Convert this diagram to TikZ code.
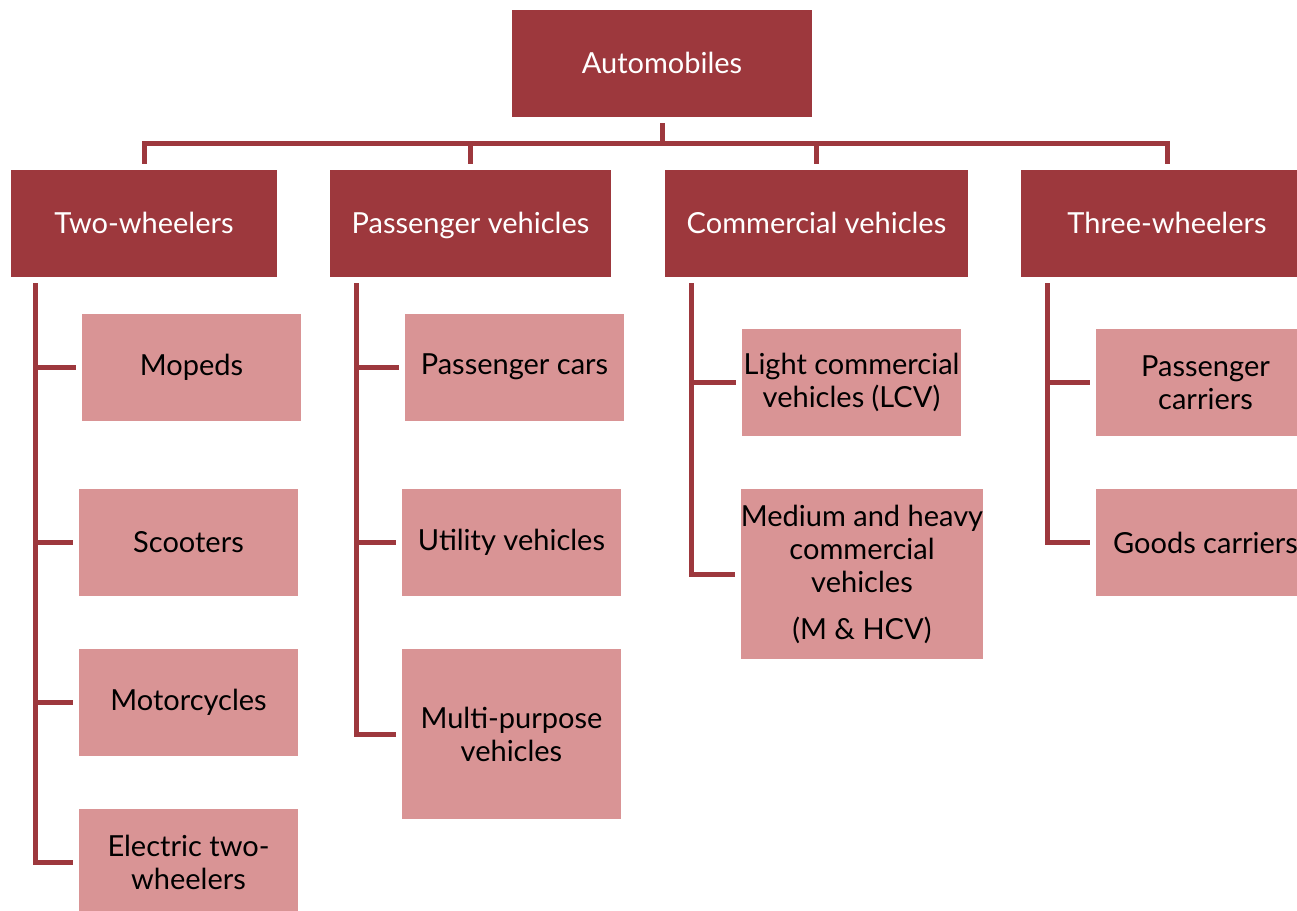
\documentclass[tikz,border=0pt]{standalone}
\usepackage{fontspec}
\setmainfont{Lato}
\usetikzlibrary{calc}
\usetikzlibrary{positioning}
\definecolor{darkbox}{HTML}{9D383D}
\definecolor{lightbox}{HTML}{D99495}

\begin{document}
\begin{tikzpicture}[x=0.5pt, y=-0.5pt,
    headnode/.style={rectangle, fill=darkbox, text=white, inner sep=0pt, minimum height=53.5pt, text height=11.5pt, text depth=2pt, font=\fontsize{14.5}{17}\selectfont},
    leafnode/.style={rectangle, fill=lightbox, text=black, inner sep=0pt, minimum width=109.5pt, minimum height=53.5pt, align=center, font=\fontsize{14.5}{16.5}\selectfont},
    link/.style={draw=darkbox, line width=2.5pt, shorten <=3pt, shorten >=3pt}]
        \useasboundingbox (0,0) rectangle (1297,911);

        % root and main groups
        \node[headnode, minimum width=150pt] (auto) at (662,63.5) {Automobiles};
        \node[headnode, minimum width=133pt] (two) at (144,223.5) {Two-wheelers};
        \node[headnode, minimum width=140.5pt] (pass) at (470.5,223.5) {Passenger vehicles};
        \node[headnode, minimum width=151.5pt] (comm) at (816.5,223.5) {Commercial vehicles};
        \node[headnode, minimum width=146pt] (three) at (1167,223.5) {Three-wheelers};

        % two-wheelers
        \node[leafnode] (mopeds) at (191.5,367) {Mopeds};
        \node[leafnode] (scooters) at (188.5,542.5) {Scooters};
        \node[leafnode] (motor) at (188.5,702.5) {Motorcycles};
        \node[leafnode] (electric) at (188.5,862.5) {Electric two-\\wheelers};

        % passenger vehicles
        \node[leafnode] (pcars) at (514.5,367) {Passenger cars};
        \node[leafnode] (utility) at (511.5,542.5) {Utility vehicles};
        \node[leafnode, minimum height=85pt] (mpv) at (511.5,734) {Multi-purpose\\vehicles};

        % commercial vehicles
        \node[leafnode] (lcv) at (851.5,382.5) {Light commercial\\vehicles (LCV)};
        \node[leafnode, minimum width=120pt, minimum height=85pt] (mhcv) at (862,574) {Medium and heavy\\commercial\\vehicles\\[7pt](M \& HCV)};

        % three-wheelers
        \node[leafnode] (pcarr) at (1205.5,382.5) {Passenger\\carriers};
        \node[leafnode] (goods) at (1205.5,542.5) {Goods carriers};

        \draw[link] (auto.south) -- ++(0,26) -| (two.north);
        \draw[link] (auto.south) -- ++(0,26) -| (pass.north);
        \draw[link] (auto.south) -- ++(0,26) -| (comm.north);
        \draw[link] (auto.south) -- ++(0,26) -| (three.north);

        \draw[link] ([xshift=12.5pt]two.south west) |- (mopeds.west);
        \draw[link] ([xshift=12.5pt]two.south west) |- (scooters.west);
        \draw[link] ([xshift=12.5pt]two.south west) |- (motor.west);
        \draw[link] ([xshift=12.5pt]two.south west) |- (electric.west);

        \draw[link] ([xshift=13.5pt]pass.south west) |- (pcars.west);
        \draw[link] ([xshift=13.5pt]pass.south west) |- (utility.west);
        \draw[link] ([xshift=13.5pt]pass.south west) |- (mpv.west);

        \draw[link] ([xshift=13.5pt]comm.south west) |- (lcv.west);
        \draw[link] ([xshift=13.5pt]comm.south west) |- (mhcv.west);

        \draw[link] ([xshift=13.5pt]three.south west) |- (pcarr.west);
        \draw[link] ([xshift=13.5pt]three.south west) |- (goods.west);
    \end{tikzpicture}
\end{document}
